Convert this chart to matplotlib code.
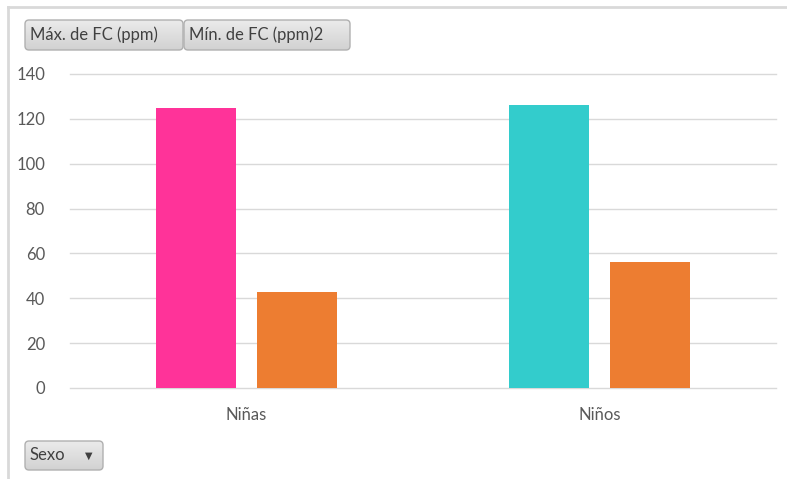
import numpy as np
import matplotlib
matplotlib.use("Agg")
import matplotlib.pyplot as plt
from matplotlib.patches import FancyBboxPatch
from matplotlib.lines import Line2D

plt.rcParams['font.family'] = ['Lato', 'DejaVu Sans']

categories = ['Niñas', 'Niños']
max_fc = [125, 126]
min_fc = [43, 56]
max_colors = ['#FF3399', '#33CCCC']
min_color = '#ED7D31'
yticks = [0, 20, 40, 60, 80, 100, 120, 140]

W, H = 787, 479
fig = plt.figure(figsize=(W / 100, H / 100), dpi=100)
fig.patch.set_facecolor('white')

# plot area in pixel terms
left, right, top, bottom = 70, 776, 74, 388
ax = fig.add_axes([left / W, 1 - bottom / H, (right - left) / W, (bottom - top) / H])

x = np.arange(len(categories))
bw = 0.224
gap = 0.062
ax.bar(x - (bw + gap) / 2, max_fc, width=bw, color=max_colors, zorder=3)
ax.bar(x + (bw + gap) / 2, min_fc, width=bw, color=min_color, zorder=3)

ax.set_xlim(-0.5, len(categories) - 0.5)
ax.set_ylim(0, 140)
ax.set_yticks(yticks)
ax.set_xticks(x)
ax.set_xticklabels(categories)
ax.grid(axis='y', color='#D9D9D9', linewidth=1.0, zorder=0)
for gl in ax.get_ygridlines():
    gl.set_clip_on(False)
for s in ax.spines.values():
    s.set_visible(False)
ax.tick_params(axis='both', length=0, labelsize=12, labelcolor='#595959')
ax.tick_params(axis='y', pad=18)
ax.tick_params(axis='x', pad=14)

# outer frame lines
fig.add_artist(Line2D([8 / W, 1], [1 - 7 / H, 1 - 7 / H], color='#D9D9D9', lw=2))
fig.add_artist(Line2D([8 / W, 8 / W], [0, 1 - 7 / H], color='#D9D9D9', lw=2))

# overlay axes for the filter buttons, in pixel coordinates
ui = fig.add_axes([0, 0, 1, 1], zorder=5)
ui.set_xlim(0, W)
ui.set_ylim(H, 0)
ui.axis('off')
grad = np.linspace(0.92, 0.82, 64).reshape(-1, 1)


def button(x0, y0, x1, y1, label, arrow=False):
    box = FancyBboxPatch((x0, y0), x1 - x0, y1 - y0,
                         boxstyle='round,pad=0,rounding_size=4',
                         facecolor='none', edgecolor='#B0B0B0', linewidth=1,
                         zorder=3)
    ui.add_patch(box)
    im = ui.imshow(grad, cmap='gray', vmin=0, vmax=1, aspect='auto',
                   extent=(x0, x1, y1, y0), zorder=2, interpolation='bilinear')
    im.set_clip_path(box)
    ui.text(x0 + 5, (y0 + y1) / 2, label, fontsize=12, color='#404040',
            va='center', ha='left', zorder=4)
    if arrow:
        ui.text(x1 - 14, (y0 + y1) / 2, '▼', fontsize=7, color='#404040',
                va='center', ha='center', family='DejaVu Sans', zorder=4)


button(25, 20, 183, 50, 'Máx. de FC (ppm)')
button(184, 20, 350, 50, 'Mín. de FC (ppm)2')
button(25, 441, 103, 470, 'Sexo', arrow=True)

fig.savefig('out.png', dpi=100)
